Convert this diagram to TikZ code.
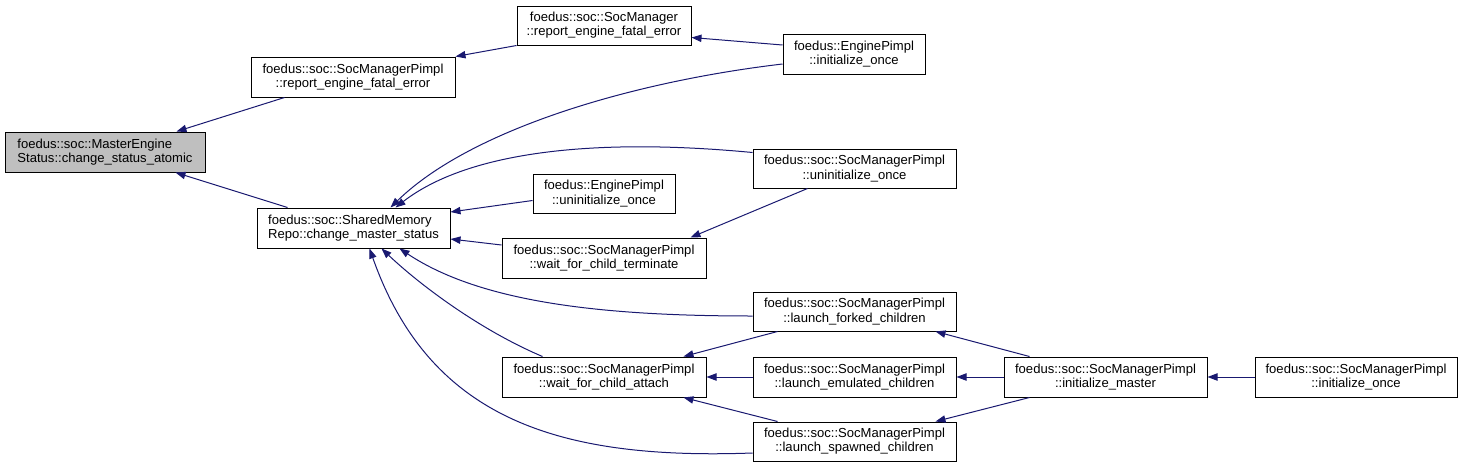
\documentclass[tikz,border=0pt]{standalone}
\usepackage{fontspec}
\setmainfont{Liberation Sans}
\usetikzlibrary{arrows.meta, calc}
\definecolor{edgeblue}{HTML}{191970}
\definecolor{rootgray}{HTML}{BFBFBF}
\tikzset{
    % Function box - white rectangle, black border
    fn box/.style={rectangle, draw=black, fill=white, line width=0.75pt, inner sep=0pt,
        minimum height=30pt, align=center, font=\fontsize{9.8}{10.6}\selectfont},
    % The function the graph is drawn for - gray box
    root box/.style={fn box, fill=rootgray, align=left},
    % Call edge - navy line, filled arrow at the callee
    call/.style={draw=edgeblue, line width=0.75pt,
        -{Triangle[length=7.5pt, width=5.5pt, fill=edgeblue]}}
}

\begin{document}
\begin{tikzpicture}[x=0.75pt, y=-0.75pt]
    \useasboundingbox (0,0) rectangle (1463,468);

    % --- Function boxes ---
    \node[root box, minimum width=150pt] (master) at (105,152)
        {foedus::soc::MasterEngine\\Status::change\_status\_atomic};
    \node[fn box, minimum width=153pt] (smpReport) at (353,77)
        {foedus::soc::SocManagerPimpl\\::report\_engine\_fatal\_error};
    \node[fn box, minimum width=130.5pt, minimum height=29.25pt] (smReport) at (604,25.5)
        {foedus::soc::SocManager\\::report\_engine\_fatal\_error};
    \node[fn box, minimum width=106.5pt] (epInit) at (854,54)
        {foedus::EnginePimpl\\::initialize\_once};
    \node[fn box, minimum width=144.75pt, align=left] (shm) at (353.5,228)
        {foedus::soc::SharedMemory\\Repo::change\_master\_status};
    \node[fn box, minimum width=152.25pt, minimum height=29.25pt] (smpUninit) at (854.5,168.5)
        {foedus::soc::SocManagerPimpl\\::uninitialize\_once};
    \node[fn box, minimum width=106.5pt, minimum height=29.25pt] (epUninit) at (604,193.5)
        {foedus::EnginePimpl\\::uninitialize\_once};
    \node[fn box, minimum width=153pt] (waitTerm) at (604,258)
        {foedus::soc::SocManagerPimpl\\::wait\_for\_child\_terminate};
    \node[fn box, minimum width=152.25pt, minimum height=29.25pt] (forked) at (854.5,311.5)
        {foedus::soc::SocManagerPimpl\\::launch\_forked\_children};
    \node[fn box, minimum width=153pt] (waitAttach) at (604,377)
        {foedus::soc::SocManagerPimpl\\::wait\_for\_child\_attach};
    \node[fn box, minimum width=152.25pt] (emulated) at (854.5,377)
        {foedus::soc::SocManagerPimpl\\::launch\_emulated\_children};
    \node[fn box, minimum width=152.25pt, minimum height=29.25pt] (spawned) at (854.5,441.5)
        {foedus::soc::SocManagerPimpl\\::launch\_spawned\_children};
    \node[fn box, minimum width=152.25pt] (initMaster) at (1105.5,377)
        {foedus::soc::SocManagerPimpl\\::initialize\_master};
    \node[fn box, minimum width=151.5pt] (smpInitOnce) at (1356,377)
        {foedus::soc::SocManagerPimpl\\::initialize\_once};

    % --- Calls into change_status_atomic ---
    \draw[call] ($(smpReport.south west)+(34,0)$) -- ($(master.north east)+(-29,0)$);
    \draw[call] ($(shm.north west)+(31,0)$) -- ($(master.south east)+(-30,0)$);
    \draw[call] (smReport.south west) -- (smpReport.north east);
    \draw[call] ($(epInit.west)+(0,-9)$) -- ($(smReport.east)+(0,12)$);

    % --- Calls into change_master_status ---
    \draw[call] ($(epInit.west)+(0,10)$) .. controls (630,82) and (470,130) .. ($(shm.north)+(37,0)$);
    \draw[call] ($(smpUninit.west)+(0,-16)$) .. controls (600,138) and (470,150) .. ($(shm.north)+(42,0)$);
    \draw[call] ($(epUninit.west)+(0,7)$) -- ($(shm.east)+(0,-16)$);
    \draw[call] ($(waitTerm.west)+(0,-13)$) -- ($(shm.east)+(0,11)$);
    \draw[call] ($(forked.west)+(0,4.5)$) .. controls (600,316) and (480,302) .. ($(shm.south)+(46,0)$);
    \draw[call] ($(waitAttach.north west)+(41,0)$) .. controls (480,330) and (420,285) .. ($(shm.south)+(28,0)$);
    \draw[call] ($(spawned.west)+(0,11.5)$) .. controls (560,460) and (430,420) .. ($(shm.south)+(16,0)$);
    \draw[call] ($(smpUninit.south west)+(55,0)$) -- ($(waitTerm.north east)+(-16,0)$);

    % --- Calls into wait_for_child_attach ---
    \draw[call] ($(forked.south west)+(25,0)$) -- ($(waitAttach.north east)+(-23,0)$);
    \draw[call] (emulated.west) -- (waitAttach.east);
    \draw[call] ($(spawned.north west)+(25,0)$) -- ($(waitAttach.south east)+(-23,0)$);

    % --- Calls from initialize_master / initialize_once ---
    \draw[call] ($(initMaster.north west)+(26,0)$) -- ($(forked.south east)+(-21,0)$);
    \draw[call] (initMaster.west) -- (emulated.east);
    \draw[call] ($(initMaster.south west)+(26,0)$) -- ($(spawned.north east)+(-21,0)$);
    \draw[call] (smpInitOnce.west) -- (initMaster.east);
\end{tikzpicture}
\end{document}
